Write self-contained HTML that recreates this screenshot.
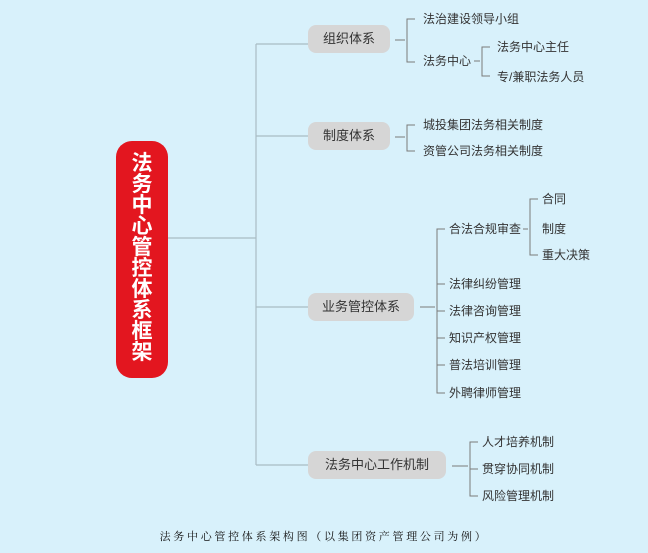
<!DOCTYPE html>
<html><head><meta charset="utf-8"><style>
body{margin:0;width:648px;height:553px;background:#d8f1fb;position:relative;overflow:hidden;font-family:"Liberation Sans","Noto Sans CJK SC",sans-serif;}
.t{position:absolute;font-size:12px;color:#333;line-height:14px;white-space:nowrap;transform:translateY(-7px);}
.b{position:absolute;background:#d6d6d6;border-radius:8px;font-size:13px;color:#333;text-align:center;line-height:28px;height:28px;}
svg{position:absolute;left:0;top:0;}
</style></head><body>
<svg width="648" height="553">
<g stroke="#a9bcc4" stroke-width="1.2" fill="none">
<path d="M168 238H256M256 44V465M256 44H308M256 136H308M256 307H308M256 465H308"/>
</g>
<g stroke="#7a7a7a" stroke-width="1" fill="none">
<path d="M395 40H405M415 19H407V62H415"/>
<path d="M474 61H480M490 47H482V76H490"/>
<path d="M395 137H405M415 125H407V151H415"/>
<path d="M420 307H435M445 229H437V393H445M437 284H445M437 311H445M437 338H445M437 365H445"/>
<path d="M523 229H528M538 199H530V255H538"/>
<path d="M452 466H468M478 442H470V496H478M470 469H478"/>
</g>
</svg>
<div style="position:absolute;left:116px;top:141px;width:52px;height:237px;background:#e3161f;border-radius:16px;"></div>
<div style="position:absolute;left:116px;top:153px;width:52px;color:#fff;font-weight:bold;font-size:21px;line-height:21px;text-align:center;">法<br>务<br>中<br>心<br>管<br>控<br>体<br>系<br>框<br>架</div>
<div class="b" style="left:308px;top:25px;width:82px;">组织体系</div>
<div class="b" style="left:308px;top:122px;width:82px;">制度体系</div>
<div class="b" style="left:308px;top:293px;width:106px;">业务管控体系</div>
<div class="b" style="left:308px;top:451px;width:138px;">法务中心工作机制</div>
<div class="t" style="left:423px;top:19px">法治建设领导小组</div>
<div class="t" style="left:423px;top:61px">法务中心</div>
<div class="t" style="left:497px;top:47px">法务中心主任</div>
<div class="t" style="left:497px;top:77px">专/兼职法务人员</div>
<div class="t" style="left:423px;top:125px">城投集团法务相关制度</div>
<div class="t" style="left:423px;top:151px">资管公司法务相关制度</div>
<div class="t" style="left:449px;top:229px">合法合规审查</div>
<div class="t" style="left:449px;top:284px">法律纠纷管理</div>
<div class="t" style="left:449px;top:311px">法律咨询管理</div>
<div class="t" style="left:449px;top:338px">知识产权管理</div>
<div class="t" style="left:449px;top:365px">普法培训管理</div>
<div class="t" style="left:449px;top:393px">外聘律师管理</div>
<div class="t" style="left:542px;top:199px">合同</div>
<div class="t" style="left:542px;top:229px">制度</div>
<div class="t" style="left:542px;top:255px">重大决策</div>
<div class="t" style="left:482px;top:442px">人才培养机制</div>
<div class="t" style="left:482px;top:469px">贯穿协同机制</div>
<div class="t" style="left:482px;top:496px">风险管理机制</div>
<div style="position:absolute;left:0;width:648px;top:528px;text-align:center;font-size:11px;letter-spacing:2.7px;color:#111;font-family:'Liberation Serif','Noto Serif CJK SC',serif;">法务中心管控体系架构图（以集团资产管理公司为例）</div>
</body></html>
